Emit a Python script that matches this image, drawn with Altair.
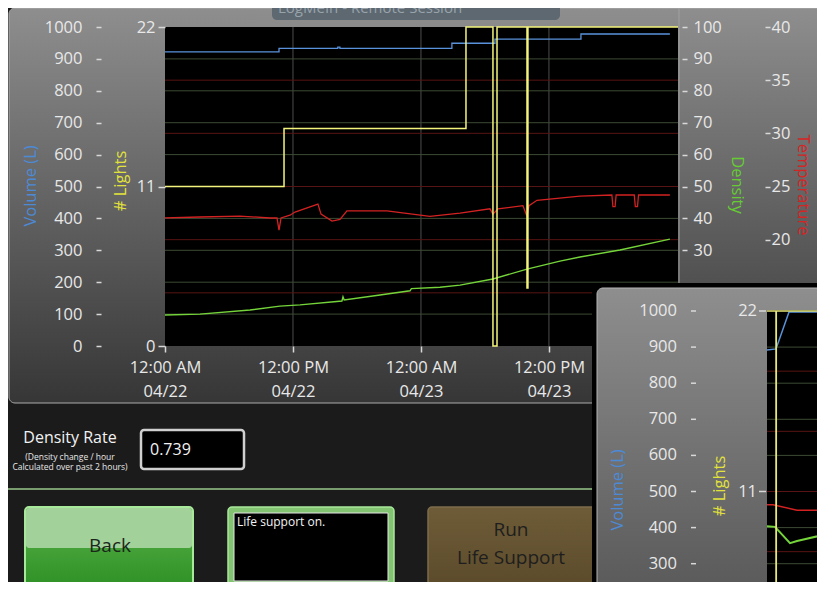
import altair as alt
import pandas as pd

# ---------------- data: main window (hours since 12:00 AM 04/22) ----------------
X_END = 48.1
volume_h = [0, 10.69, 16.2, 16.4, 26.9, 30.94, 39.0, 47.34]
volume_v = [922, 933, 937, 933, 949, 962, 978, 978]

lights_h = [0, 11.16, 28.22, 30.75, 31.13, 33.94, 34.03, 48.1]
lights_v = [11, 15, 22, 0, 22, 4, 22, 22]

temp_h = [0, 3.28, 7.03, 9.84, 10.5, 10.69, 10.88, 11.72, 12.19, 14.34, 14.63, 15.66,
          16.41, 17.06, 20.81, 24.84, 27.66, 30.47, 30.75, 31.22, 33.56, 33.94, 34.13,
          34.88, 38.91, 41.9, 42.0, 42.2, 42.3, 44.0, 44.1, 44.3, 44.4, 47.34]
temp_v = [22.04, 22.13, 22.22, 22.04, 22.04, 20.9, 22.04, 22.3, 22.6, 23.35, 22.4, 21.75,
          21.9, 22.7, 22.7, 22.2, 22.5, 22.9, 22.4, 22.9, 23.2, 22.2, 23.2,
          23.7, 24.1, 24.2, 23.1, 23.1, 24.2, 24.2, 23.1, 23.1, 24.2, 24.2]

dens_h = [0, 3.28, 7.97, 10.78, 12.66, 16.59, 16.69, 16.8, 20.16, 22.97, 23.1, 25.78,
          27.66, 30.75, 33.94, 37.03, 38.91, 42.66, 47.34]
dens_v = [9.7, 10.0, 11.3, 12.5, 12.9, 14.1, 15.4, 14.4, 16.0, 17.3, 18.0, 18.4,
          19.1, 21.0, 24.1, 26.6, 27.9, 30.1, 33.5]

x_tick_hours = [0, 12, 24, 36]
x_tick_time = ["12:00 AM", "12:00 PM", "12:00 AM", "12:00 PM"]
x_tick_date = ["04/22", "04/22", "04/23", "04/23"]
volume_ticks = list(range(0, 1001, 100))
lights_ticks = [0, 11, 22]
density_ticks = [30, 40, 50, 60, 70, 80, 90, 100]
temp_ticks = [20, 25, 30, 35, 40]
density_grid = [10, 20, 30, 40, 50, 60, 70, 80, 90]
temp_grid = [15, 20, 25, 30, 35]
time_grid = [12, 24, 36]

# ---------------- data: second (overlapping) window, x in minutes ----------------
ov_vol_m = [0, 9, 22, 60]
ov_vol_v = [892, 895, 997, 997]
ov_lights_m = [0, 9, 9.3, 60]
ov_lights_v = [22, 0, 22, 22]
ov_temp_m = [0, 6, 30, 60]
ov_temp_v = [23.9, 23.9, 23.45, 23.45]
ov_dens_m = [0, 8, 23, 30, 60]
ov_dens_v = [40.4, 40.2, 35.7, 36.3, 38.2]
ov_volume_ticks = [300, 400, 500, 600, 700, 800, 900, 1000]
ov_lights_ticks = [11, 22]

# ---------------- layout helpers ----------------
OX, OY = 165, 27          # plot origin in screen pixels
PW, PH = 513, 319         # main plot size
FONT = "Open Sans"
one = pd.DataFrame({"d": [0]})


def R(x1, y1, x2, y2, **kw):
    return alt.Chart(one).mark_rect(**kw).encode(
        x=alt.value(x1 - OX), x2=alt.value(x2 - OX),
        y=alt.value(y1 - OY), y2=alt.value(y2 - OY))


def L(x1, y1, x2, y2, **kw):
    return alt.Chart(one).mark_rule(**kw).encode(
        x=alt.value(x1 - OX), x2=alt.value(x2 - OX),
        y=alt.value(y1 - OY), y2=alt.value(y2 - OY))


def T(text, x, y, **kw):
    kw.setdefault("font", FONT)
    return alt.Chart(one).mark_text(text=text, **kw).encode(
        x=alt.value(x - OX), y=alt.value(y - OY))


def sc(domain, rng=None):
    kw = dict(domain=domain, nice=False, zero=False)
    if rng is not None:
        kw["range"] = rng
    return alt.Scale(**kw)


def grad(c0, c1):
    return {"gradient": "linear", "x1": 0, "x2": 0, "y1": 0, "y2": 1,
            "stops": [{"offset": 0, "color": c0}, {"offset": 1, "color": c1}]}


ax = dict(domain=False, grid=False, tickColor="#d8d8d8", tickWidth=1.5,
          labelColor="#e8e8e8", labelFontSize=16.5, labelFont=FONT, title=None,
          zindex=1, labelOverlap=False, labelFlush=False, format="d")

lab = "''"
for v, t, d in reversed(list(zip(x_tick_hours, x_tick_time, x_tick_date))):
    lab = f"datum.value == {v} ? ['{t}', '{d}'] : {lab}"

XS = sc([0, X_END])

# ---------------- layers ----------------
layers = []
# main panel
layers.append(R(9, 8, 840, 403, fill=grad("#8e8e8e", "#363636"), cornerRadius=6,
                stroke="#ababab", strokeWidth=1))
# top tab of remote session window
layers.append(R(272, -6, 560, 20, fill="#5d6871", cornerRadius=5))
layers.append(T("LogMeIn - Remote Session", 278, 8, align="left", baseline="middle",
                fontSize=15, color="#98a3ab"))
layers.append(L(679, 8, 679, 290, color="#a0a0a0", strokeWidth=1))
# plot background
layers.append(R(165, 27, 678, 346, fill="#000000"))

# grids
df_tg = pd.DataFrame({"h": time_grid})
layers.append(alt.Chart(df_tg).mark_rule(color="#4d4d4d", strokeWidth=1).encode(
    x=alt.X("h:Q", scale=XS, axis=None)))
df_dg = pd.DataFrame({"g": density_grid})
layers.append(alt.Chart(df_dg).mark_rule(color="#3c4a33", strokeWidth=1).encode(
    y=alt.Y("g:Q", scale=sc([0, 100]), axis=None)))
df_rg = pd.DataFrame({"g": temp_grid})
layers.append(alt.Chart(df_rg).mark_rule(color="#581414", strokeWidth=1).encode(
    y=alt.Y("g:Q", scale=sc([10, 40]), axis=None)))

# data series
df_vol = pd.DataFrame({"h": volume_h, "v": volume_v})
layers.append(alt.Chart(df_vol).mark_line(interpolate="step-after", color="#5a93dc",
                                          strokeWidth=1.3).encode(
    x=alt.X("h:Q", scale=XS, axis=alt.Axis(orient="bottom", values=x_tick_hours, tickSize=6,
                                           labelPadding=7, labelLineHeight=24,
                                           labelExpr=lab, labelAlign="center", **ax)),
    y=alt.Y("v:Q", scale=sc([0, 1000]),
            axis=alt.Axis(orient="left", offset=64, values=volume_ticks, tickSize=5,
                          labelPadding=14, **ax))))

df_temp = pd.DataFrame({"h": temp_h, "v": temp_v})
layers.append(alt.Chart(df_temp).mark_line(color="#d42222", strokeWidth=1.3).encode(
    x=alt.X("h:Q", scale=XS, axis=None),
    y=alt.Y("v:Q", scale=sc([10, 40]),
            axis=alt.Axis(orient="right", offset=87, values=temp_ticks, tickSize=5,
                          labelPadding=1, **ax))))

df_dens = pd.DataFrame({"h": dens_h, "v": dens_v})
layers.append(alt.Chart(df_dens).mark_line(color="#74d43a", strokeWidth=1.4).encode(
    x=alt.X("h:Q", scale=XS, axis=None),
    y=alt.Y("v:Q", scale=sc([0, 100]),
            axis=alt.Axis(orient="right", offset=4, values=density_ticks, tickSize=5,
                          labelPadding=6, **ax))))

df_li = pd.DataFrame({"h": lights_h, "v": lights_v})
layers.append(alt.Chart(df_li).mark_line(interpolate="step-after", color="#f4f47c",
                                         strokeWidth=1.5).encode(
    x=alt.X("h:Q", scale=XS, axis=None),
    y=alt.Y("v:Q", scale=sc([0, 22]),
            axis=alt.Axis(orient="left", offset=0, values=lights_ticks, tickSize=7,
                          labelPadding=3, **ax))))

# axis titles
layers.append(T("Volume (L)", 31, 186, angle=270, fontSize=16.5, color="#4d8ad6"))
layers.append(T("# Lights", 121, 181, angle=270, fontSize=16.5, color="#e2e23c"))
layers.append(T("Density", 737, 185, angle=90, fontSize=16.5, color="#66cc33"))
layers.append(T("Temperature", 803, 185, angle=90, fontSize=16.5, color="#d42424"))

# lower controls
layers.append(L(8, 489, 592, 489, color="#98c88a", strokeWidth=1.5))
layers.append(T("Density Rate", 70, 438, fontSize=16, color="#f2f2f2"))
layers.append(T("(Density change / hour", 70, 457, fontSize=8.5, color="#e8e8e8"))
layers.append(T("Calculated over past 2 hours)", 70, 467, fontSize=8.5, color="#e8e8e8"))
layers.append(R(141, 430, 244, 469, fill="#000000", stroke="#cfcfcf", strokeWidth=2.5,
                cornerRadius=3))
layers.append(T("0.739", 150, 450, align="left", fontSize=16, color="#f2f2f2"))

# Back button
layers.append(R(25, 507, 193, 586, fill=grad("#5ab34a", "#2f9127"), stroke="#a8e89a",
                strokeWidth=2, cornerRadius=4))
layers.append(R(26, 508, 192, 548, fill="#a2d19a", cornerRadius=3))
layers.append(T("Back", 110, 546, fontSize=19, color="#1a261a"))

# status box
layers.append(R(228, 507, 394, 586, fill="#82c472", stroke="#a8e89a", strokeWidth=1.5,
                cornerRadius=4))
layers.append(R(234, 513, 388, 581, fill="#000000", stroke="#e6e6e6", strokeWidth=1))
layers.append(T("Life support on.", 237, 522, align="left", fontSize=12, color="#f4f4f4"))

# Run Life Support button
layers.append(R(428, 507, 620, 586, fill=grad("#6e5c38", "#5c4b2b"), stroke="#7d6c4c",
                strokeWidth=1.5, cornerRadius=4))
layers.append(T("Run", 511, 530, fontSize=19, color="#1e1e1e"))
layers.append(T("Life Support", 511, 558, fontSize=19, color="#1e1e1e"))

# ---------------- second window ----------------
OVX = [767 - OX, 827 - OX]
OVY = [672 - OY, 311 - OY]
layers.append(R(592, 283, 840, 620, fill="#000000"))
layers.append(R(597, 288, 840, 620, fill=grad("#8e8e8e", "#555555"), cornerRadius=6,
                stroke="#b5b5b5", strokeWidth=1))
layers.append(R(767, 310, 840, 620, fill="#000000"))

df_odg = pd.DataFrame({"g": density_grid})
layers.append(alt.Chart(df_odg).mark_rule(color="#3c4a33", strokeWidth=1).encode(
    x=alt.value(767 - OX), x2=alt.value(840 - OX),
    y=alt.Y("g:Q", scale=sc([0, 100], OVY), axis=None)))
df_org = pd.DataFrame({"g": temp_grid})
layers.append(alt.Chart(df_org).mark_rule(color="#581414", strokeWidth=1).encode(
    x=alt.value(767 - OX), x2=alt.value(840 - OX),
    y=alt.Y("g:Q", scale=sc([10, 40], OVY), axis=None)))

OXS = sc([0, 60], OVX)
layers.append(alt.Chart(pd.DataFrame({"m": ov_vol_m, "v": ov_vol_v}))
              .mark_line(color="#5a93dc", strokeWidth=1.5).encode(
    x=alt.X("m:Q", scale=OXS, axis=None), y=alt.Y("v:Q", scale=sc([0, 1000], OVY), axis=None)))
layers.append(alt.Chart(pd.DataFrame({"m": ov_temp_m, "v": ov_temp_v}))
              .mark_line(color="#d42222", strokeWidth=1.5).encode(
    x=alt.X("m:Q", scale=OXS, axis=None), y=alt.Y("v:Q", scale=sc([10, 40], OVY), axis=None)))
layers.append(alt.Chart(pd.DataFrame({"m": ov_dens_m, "v": ov_dens_v}))
              .mark_line(color="#74d43a", strokeWidth=2).encode(
    x=alt.X("m:Q", scale=OXS, axis=None), y=alt.Y("v:Q", scale=sc([0, 100], OVY), axis=None)))
layers.append(alt.Chart(pd.DataFrame({"m": ov_lights_m, "v": ov_lights_v}))
              .mark_line(interpolate="step-after", color="#e8e87a", strokeWidth=1.5).encode(
    x=alt.X("m:Q", scale=OXS, axis=None), y=alt.Y("v:Q", scale=sc([0, 22], OVY), axis=None)))

df_ovt = pd.DataFrame({"v": ov_volume_ticks, "t": [str(v) for v in ov_volume_ticks]})
layers.append(alt.Chart(df_ovt).mark_text(align="right", baseline="middle", font=FONT,
                                          fontSize=16.5, color="#e8e8e8").encode(
    x=alt.value(677 - OX), y=alt.Y("v:Q", scale=sc([0, 1000], OVY), axis=None), text="t:N"))
layers.append(alt.Chart(df_ovt).mark_rule(color="#d8d8d8", strokeWidth=1.5).encode(
    x=alt.value(691 - OX), x2=alt.value(696 - OX),
    y=alt.Y("v:Q", scale=sc([0, 1000], OVY), axis=None)))
df_olt = pd.DataFrame({"v": ov_lights_ticks, "t": [str(v) for v in ov_lights_ticks]})
layers.append(alt.Chart(df_olt).mark_text(align="right", baseline="middle", font=FONT,
                                          fontSize=16.5, color="#e8e8e8").encode(
    x=alt.value(757 - OX), y=alt.Y("v:Q", scale=sc([0, 22], OVY), axis=None), text="t:N"))
layers.append(alt.Chart(df_olt).mark_rule(color="#d8d8d8", strokeWidth=1.5).encode(
    x=alt.value(759 - OX), x2=alt.value(766 - OX),
    y=alt.Y("v:Q", scale=sc([0, 22], OVY), axis=None)))
layers.append(T("Volume (L)", 618, 490, angle=270, fontSize=16.5, color="#4d8ad6"))
layers.append(T("# Lights", 720, 486, angle=270, fontSize=16.5, color="#e2e23c"))

chart = (alt.layer(*layers)
         .resolve_scale(x="independent", y="independent")
         .properties(width=PW, height=PH, background="#1b1b1b",
                     padding={"left": 157, "top": 19, "right": 139, "bottom": 236},
                     autosize=alt.AutoSizeParams(type="none"))
         .configure_view(stroke=None)
         .configure(font=FONT))

chart.save("out.html", embed_options={"renderer": "svg", "actions": False})
